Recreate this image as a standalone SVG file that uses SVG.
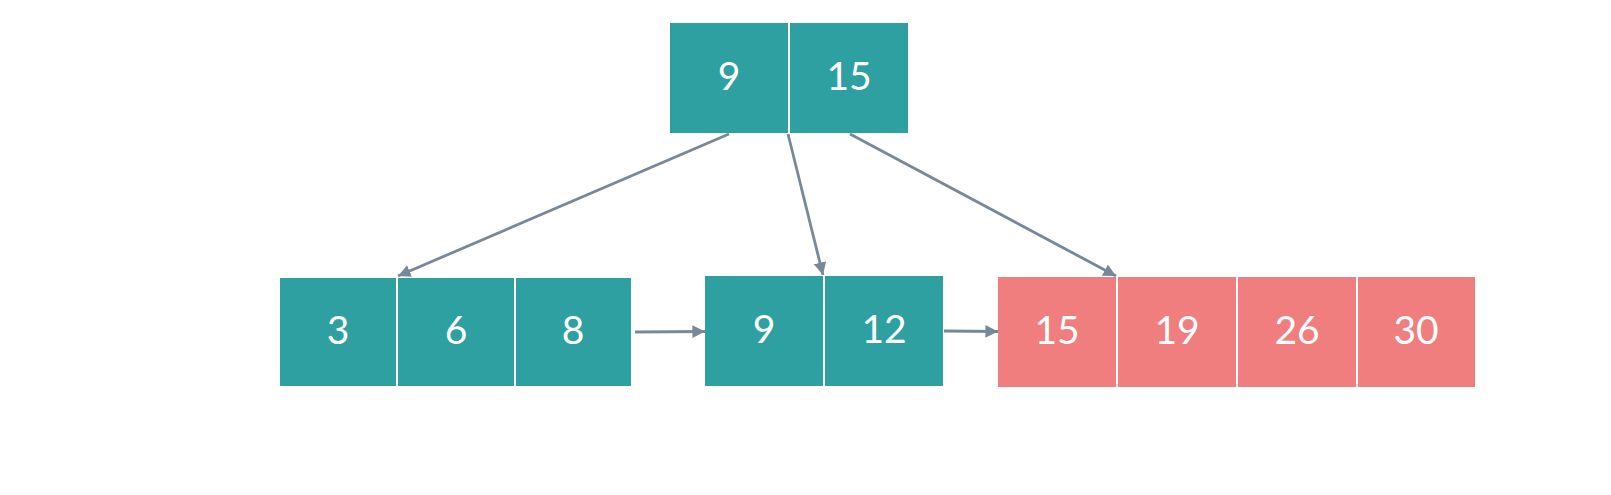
<svg xmlns="http://www.w3.org/2000/svg" width="1611" height="495" viewBox="0 0 1611 495">
<style>
.t{fill:#2ea0a2}.r{fill:#f07e7e}
text{font-family:Lato,"Source Sans Pro","DejaVu Sans",sans-serif;font-size:39px;fill:#fff;text-anchor:middle;dominant-baseline:central}
.c{stroke:#778899;stroke-width:2.8;fill:none;marker-end:url(#a)}
</style>
<defs><marker id="a" viewBox="0 0 10 10" refX="10" refY="5" markerWidth="4.5" markerHeight="4.5" orient="auto" markerUnits="strokeWidth"><path d="M0,0L10,5L0,10z" fill="#778899"/></marker></defs>
<rect width="1611" height="495" fill="#fff"/>
<g id="root">
<rect class="t" x="670" y="23" width="118" height="110"/><text x="729" y="75">9</text>
<rect class="t" x="790" y="23" width="118" height="110"/><text x="849" y="75">15</text>
</g>
<g id="leaf1">
<rect class="t" x="280" y="278" width="116" height="108"/><text x="338" y="329">3</text>
<rect class="t" x="398" y="278" width="116" height="108"/><text x="456" y="329">6</text>
<rect class="t" x="516" y="278" width="115" height="108"/><text x="573" y="329">8</text>
</g>
<g id="leaf2">
<rect class="t" x="705" y="276" width="118" height="110"/><text x="764" y="328">9</text>
<rect class="t" x="825" y="276" width="118" height="110"/><text x="884" y="328">12</text>
</g>
<g id="leaf3">
<rect class="r" x="998" y="277" width="118" height="110"/><text x="1057" y="329">15</text>
<rect class="r" x="1118" y="277" width="118" height="110"/><text x="1177" y="329">19</text>
<rect class="r" x="1238" y="277" width="118" height="110"/><text x="1297" y="329">26</text>
<rect class="r" x="1358" y="277" width="117" height="110"/><text x="1416" y="329">30</text>
</g>
<g id="connectors">
<line class="c" x1="729" y1="134" x2="398" y2="276"/>
<line class="c" x1="788" y1="134" x2="823" y2="275"/>
<line class="c" x1="850" y1="134" x2="1116" y2="276"/>
<line class="c" x1="635" y1="332" x2="705" y2="331.5"/>
<line class="c" x1="944" y1="331" x2="998" y2="331.5"/>
</g>
</svg>
